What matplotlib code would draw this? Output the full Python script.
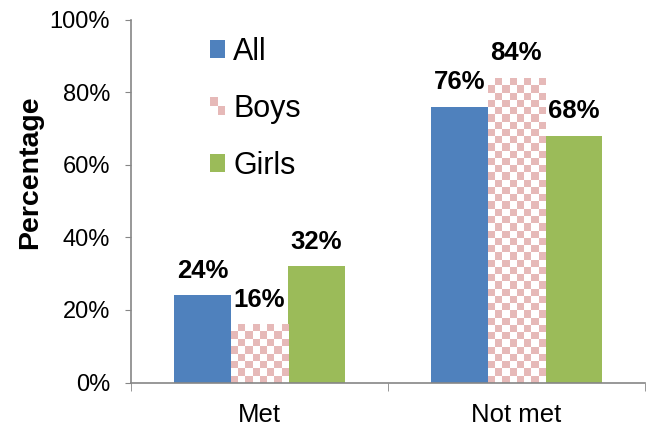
import numpy as np
import matplotlib.pyplot as plt
from matplotlib.patches import Rectangle
from matplotlib.legend_handler import HandlerBase

plt.rcParams['font.family'] = ['Liberation Sans', 'DejaVu Sans']

categories = ['Met', 'Not met']
series = ['All', 'Boys', 'Girls']
all_vals = [24, 76]
boys_vals = [16, 84]
girls_vals = [32, 68]
yticks = [0, 20, 40, 60, 80, 100]

blue = '#4f81bd'
pink = '#e6b9b8'
green = '#9bbb59'
grey = '#868686'


def checker(nx, ny):
    return np.indices((ny, nx)).sum(axis=0) % 2


class CheckerHandler(HandlerBase):
    # small checkered square for the Boys legend entry
    def create_artists(self, legend, orig_handle, xdescent, ydescent,
                       width, height, fontsize, trans):
        n = 2
        arts = []
        for i in range(n):
            for j in range(n):
                c = pink if (i + j) % 2 == 1 else 'white'
                r = Rectangle((-xdescent + i * width / n, -ydescent + j * height / n),
                              width / n, height / n, facecolor=c, edgecolor='none',
                              transform=trans)
                arts.append(r)
        return arts


fig = plt.figure(figsize=(6.5, 4.26), dpi=100)
ax = fig.add_axes([0.2015, 0.102, 0.7905, 0.852])

x = np.arange(len(categories))
w = 0.222
b_all = ax.bar(x - w, all_vals, w, color=blue, label='All')
b_boys = ax.bar(x, boys_vals, w, color='white', label='Boys')
b_girls = ax.bar(x + w, girls_vals, w, color=green, label='Girls')

# checkered fill for the Boys bars
cmap = plt.matplotlib.colors.ListedColormap(['white', pink])
for bar in b_boys:
    x0, y0 = bar.get_x(), bar.get_y()
    bw, bh = bar.get_width(), bar.get_height()
    nx = 8
    ch = 2.0
    ny = int(np.ceil(bh / ch))
    im = ax.imshow(checker(nx, ny)[::-1], cmap=cmap, vmin=0, vmax=1,
                   extent=(x0, x0 + bw, y0 + bh - ny * ch, y0 + bh), origin='lower',
                   aspect='auto', interpolation='nearest', zorder=2)
    im.set_clip_path(bar)

for bars in (b_all, b_boys, b_girls):
    for bar in bars:
        ax.annotate(f'{int(bar.get_height())}%',
                    (bar.get_x() + bar.get_width() / 2, bar.get_height()),
                    xytext=(0, 9), textcoords='offset points',
                    ha='center', va='bottom', fontsize=18.5, fontweight='bold')

ax.set_xlim(-0.5, len(categories) - 0.5)
ax.set_ylim(0, 100)
ax.set_yticks(yticks)
ax.set_yticklabels([f'{v}%' for v in yticks])
ax.set_xticks(x)
ax.set_xticklabels(categories)
ax.set_xticks(np.arange(len(categories) + 1) - 0.5, minor=True)
ax.tick_params(axis='x', which='major', length=0, labelsize=18.5, pad=15)
ax.tick_params(axis='x', which='minor', length=5.5, color=grey, direction='out')
ax.tick_params(axis='y', length=4, color=grey, labelsize=17, pad=11)

for s in ['top', 'right']:
    ax.spines[s].set_visible(False)
for s in ['left', 'bottom']:
    ax.spines[s].set_color(grey)
    ax.spines[s].set_linewidth(1.2)

ax.set_ylabel('Percentage', fontsize=20.5, fontweight='bold')
ax.yaxis.set_label_coords(-0.171, 0.58)

handles = [b_all[0], b_boys[0], b_girls[0]]
ax.legend(handles, series, loc='upper left', bbox_to_anchor=(0.154, 0.952),
          frameon=False, fontsize=22, handlelength=0.5, handleheight=0.5,
          handletextpad=0.25, labelspacing=0.88, borderpad=0, borderaxespad=0,
          handler_map={b_boys[0]: CheckerHandler()})

plt.savefig('out.png', dpi=100)
